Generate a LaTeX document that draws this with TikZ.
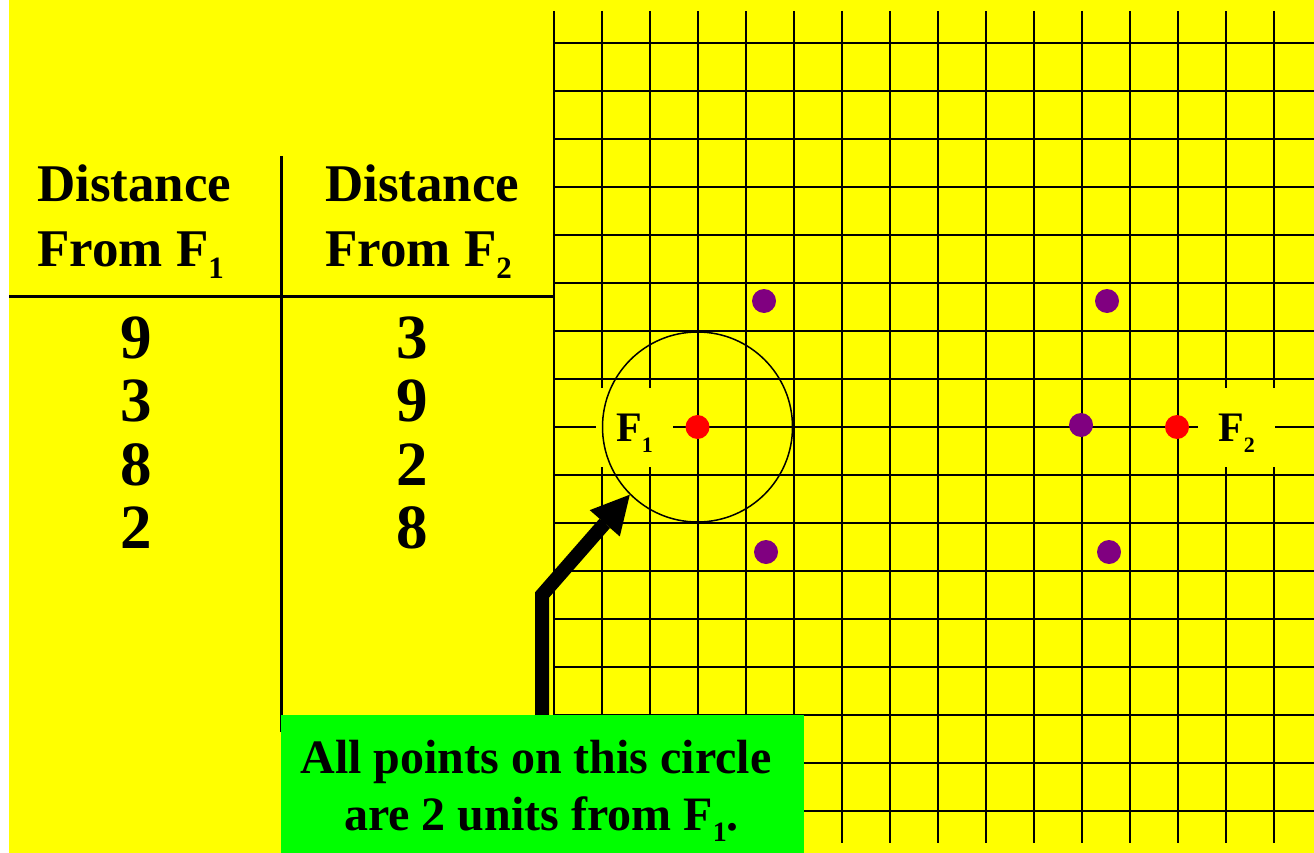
\documentclass[tikz,border=0pt]{standalone}
\usepackage{fontspec}
\setmainfont{Liberation Serif}
\usetikzlibrary{arrows.meta}
\definecolor{bgyellow}{RGB}{255,255,0}
\definecolor{notegreen}{RGB}{0,255,0}
\definecolor{dotpurple}{RGB}{128,0,128}
\definecolor{dotred}{RGB}{255,0,0}
\newcommand{\sbs}[3]{\raisebox{-#2}{\fontsize{#1}{#1}\selectfont #3}}
\begin{document}
\begin{tikzpicture}[x=1pt,y=-1pt,
  gridline/.style={line width=2.7pt, black},
  tableline/.style={line width=3pt, black},
  headtext/.style={font=\fontsize{53}{64}\selectfont\bfseries, inner sep=0pt, anchor=base west},
  numtext/.style={font=\fontsize{63}{64}\selectfont\bfseries, inner sep=0pt, anchor=base},
  flabel/.style={fill=bgyellow, minimum width=77pt, minimum height=79pt, inner sep=0pt,
                 text height=28pt, text depth=0pt, font=\fontsize{42}{42}\selectfont\bfseries},
  ptdot/.style={circle, fill=#1, minimum size=24pt, inner sep=0pt},
  notebox/.style={fill=notegreen, minimum width=523pt, minimum height=138pt, inner sep=0pt},
  notetext/.style={font=\fontsize{48}{57}\selectfont\bfseries, inner sep=0pt, anchor=base},
  bigarrow/.style={line width=14pt, -{Triangle[length=38pt, width=40pt, line width=0pt]}}]
% background
\useasboundingbox (0,0) rectangle (1314,853);
\fill[white] (0,0) rectangle (1314,853);
\fill[bgyellow] (9,0) rectangle (1314,853);
% grid
\foreach \k in {0,...,15}
  \draw[gridline] (554+48*\k,11) -- (554+48*\k,843);
\foreach \j in {0,...,16}
  \draw[gridline] (554,43+48*\j) -- (1314,43+48*\j);
% table lines
\draw[tableline] (9,296) -- (554,296);
\draw[tableline] (281.5,156) -- (281.5,732);
% table headers
\node[headtext] (h1a) at (37,201.7) {Distance};
\node[headtext] (h1b) at (37,266) {From F\sbs{31pt}{12pt}{1}};
\node[headtext] (h2a) at (325,201.7) {Distance};
\node[headtext] (h2b) at (325,266) {From F\sbs{31pt}{12pt}{2}};
% table numbers
\node[numtext] (c1r1) at (136.5,358) {9};
\node[numtext] (c1r2) at (136.5,421.7) {3};
\node[numtext] (c1r3) at (136.5,485) {8};
\node[numtext] (c1r4) at (136.5,548) {2};
\node[numtext] (c2r1) at (412.5,358) {3};
\node[numtext] (c2r2) at (412.5,421.7) {9};
\node[numtext] (c2r3) at (412.5,485) {2};
\node[numtext] (c2r4) at (412.5,548) {8};
% focus labels
\node[flabel] (F1lab) at (634.5,427.5) {F\sbs{22pt}{11pt}{1}};
\node[flabel] (F2lab) at (1236.5,427.5) {F\sbs{22pt}{11pt}{2}};
% circle around F1
\node[draw, circle, line width=1.5pt, minimum size=190pt, inner sep=0pt] (circ) at (697.5,427) {};
% dots
\node[ptdot=dotred] (F1) at (697.5,427) {};
\node[ptdot=dotred] (F2) at (1177,427) {};
\node[ptdot=dotpurple] (p1) at (764,301) {};
\node[ptdot=dotpurple] (p2) at (766,552) {};
\node[ptdot=dotpurple] (p3) at (1107,301) {};
\node[ptdot=dotpurple] (p4) at (1081,425) {};
\node[ptdot=dotpurple] (p5) at (1109,552) {};
% arrow
\coordinate (a0) at (542,715);
\coordinate (a1) at (542,595);
\draw[bigarrow] (a0) -- (a1) -- (circ.225);
% note
\node[notebox] (note) at (542.5,784) {};
\node[notetext] (noteA) at (536,773) {All points on this circle};
\node[notetext] (noteB) at (541.5,830) {are 2 units from F\sbs{28pt}{11pt}{1}.};
\end{tikzpicture}
\end{document}
